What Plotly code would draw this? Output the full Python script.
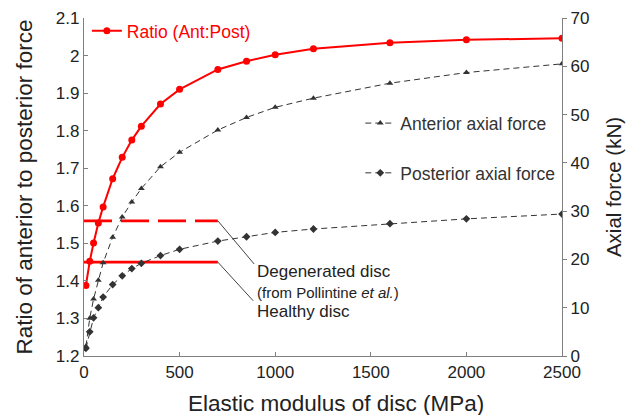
import plotly.graph_objects as go

# ---------------- data ----------------
modulus = [10, 30, 50, 75, 100, 150, 200, 250, 300, 400, 500, 700, 850, 1000, 1200, 1600, 2000, 2500]
ratio = [1.388, 1.452, 1.501, 1.554, 1.597, 1.672, 1.729, 1.775, 1.812, 1.871, 1.910,
         1.963, 1.985, 2.002, 2.018, 2.034, 2.042, 2.046]
anterior_force = [2.0, 7.8, 11.8, 15.7, 19.3, 24.6, 28.8, 31.9, 34.7, 39.2, 42.2,
                  46.8, 49.4, 51.5, 53.4, 56.5, 58.7, 60.5]
posterior_force = [1.6, 5.0, 7.9, 10.0, 12.2, 14.8, 16.6, 18.1, 19.2, 20.8, 22.1,
                   23.8, 24.7, 25.6, 26.3, 27.4, 28.4, 29.4]

ref_x = [0, 700]
degenerated_ratio = 1.56
healthy_ratio = 1.45

x_ticks = [0, 500, 1000, 1500, 2000, 2500]
y_ticks = [1.2, 1.3, 1.4, 1.5, 1.6, 1.7, 1.8, 1.9, 2.0, 2.1]
y_ticktext = ["1.2", "1.3", "1.4", "1.5", "1.6", "1.7", "1.8", "1.9", "2", "2.1"]
y2_ticks = [0, 10, 20, 30, 40, 50, 60, 70]

RED = "#ff0000"
DARK = "#333333"
AXIS = "#7f7f7f"
TXT = "#222222"
FONT = "Liberation Sans, Arial, sans-serif"

fig = go.Figure()

# reference lines
fig.add_trace(go.Scatter(x=ref_x, y=[degenerated_ratio] * 2, mode="lines",
                         line=dict(color=RED, width=2.7, dash="28px,9px"),
                         showlegend=False, hoverinfo="skip"))
fig.add_trace(go.Scatter(x=ref_x, y=[healthy_ratio] * 2, mode="lines",
                         line=dict(color=RED, width=2.7),
                         showlegend=False, hoverinfo="skip"))

# force series (right axis)
fig.add_trace(go.Scatter(x=modulus, y=anterior_force, yaxis="y2", mode="lines+markers",
                         name="Anterior axial force", legend="legend2",
                         line=dict(color=DARK, width=1, dash="6px,4px"),
                         marker=dict(symbol="triangle-up", size=6, color=DARK)))
fig.add_trace(go.Scatter(x=modulus, y=posterior_force, yaxis="y2", mode="lines+markers",
                         name="Posterior axial force", legend="legend2",
                         legendgroup="post",
                         line=dict(color=DARK, width=1, dash="6px,4px"),
                         marker=dict(symbol="diamond", size=6, color=DARK)))

# ratio (left axis)
fig.add_trace(go.Scatter(x=modulus, y=ratio, mode="lines+markers",
                         name="Ratio (Ant:Post)", legend="legend",
                         line=dict(color=RED, width=2),
                         marker=dict(symbol="circle", size=7, color=RED)))

# leader lines
fig.add_shape(type="line", xref="x", yref="y", x0=700, y0=degenerated_ratio, x1=890, y1=1.445,
              line=dict(color="#444444", width=1))
fig.add_shape(type="line", xref="x", yref="y", x0=700, y0=healthy_ratio, x1=885, y1=1.347,
              line=dict(color="#444444", width=1))

fig.add_annotation(x=892, y=1.424, xref="x", yref="y", text="Degenerated disc",
                   showarrow=False, xanchor="left", yanchor="middle",
                   font=dict(size=17, color=TXT, family=FONT))
fig.add_annotation(x=892, y=1.368, xref="x", yref="y", text="(from Pollintine <i>et al.</i>)",
                   showarrow=False, xanchor="left", yanchor="middle",
                   font=dict(size=15, color=TXT, family=FONT))
fig.add_annotation(x=892, y=1.318, xref="x", yref="y", text="Healthy disc",
                   showarrow=False, xanchor="left", yanchor="middle",
                   font=dict(size=17, color=TXT, family=FONT))

# x-axis title (slightly right of the plot centre, as in the reference)
fig.add_annotation(x=0.527, y=0, xref="paper", yref="paper", yshift=-47,
                   text="Elastic modulus of disc (MPa)", showarrow=False,
                   xanchor="center", yanchor="middle",
                   font=dict(size=22.5, color=TXT, family=FONT))

fig.update_layout(
    width=626, height=407,
    margin=dict(l=76, r=72, t=10, b=59, autoexpand=False),
    paper_bgcolor="white", plot_bgcolor="white",
    font=dict(family=FONT, size=17, color=TXT),
    xaxis=dict(range=[0, 2500], tickvals=x_ticks, ticks="inside", ticklen=4,
               tickcolor=AXIS, showline=True, linecolor=AXIS, linewidth=1.3,
               showgrid=False, zeroline=False, automargin=False),
    yaxis=dict(range=[1.2, 2.1], tickvals=y_ticks, ticktext=y_ticktext, ticks="inside",
               ticklen=4, tickcolor=AXIS, showline=True, linecolor=AXIS, linewidth=1.3,
               showgrid=False, zeroline=False, automargin=False,
               title=dict(text="Ratio of anterior to posterior force", font=dict(size=22.5), standoff=16)),
    yaxis2=dict(range=[0, 70], tickvals=y2_ticks, overlaying="y", side="right",
                ticks="outside", ticklen=4, tickcolor=AXIS, showline=True, linecolor=AXIS,
                linewidth=1.3, showgrid=False, zeroline=False, automargin=False,
                title=dict(text="Axial force (kN)", font=dict(size=20.5), standoff=18)),
    legend=dict(x=0.006, y=1.015, xanchor="left", yanchor="top", bgcolor="rgba(0,0,0,0)",
                font=dict(size=17.5, color=RED, family=FONT)),
    legend2=dict(x=0.578, y=0.742, xanchor="left", yanchor="top", bgcolor="rgba(0,0,0,0)",
                 tracegroupgap=24,
                 font=dict(size=17.5, color="#333333", family=FONT)),
)

fig.write_html("out.html")
